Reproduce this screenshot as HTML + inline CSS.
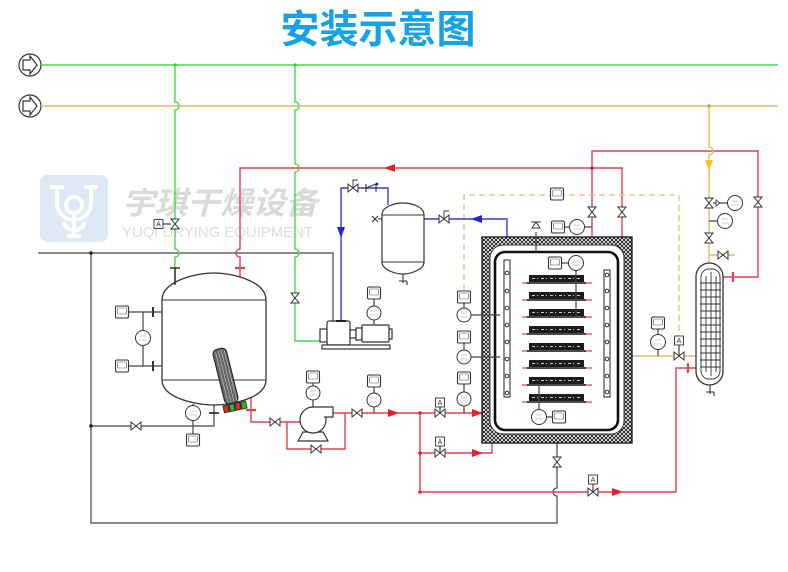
<!DOCTYPE html>
<html><head><meta charset="utf-8"><style>
html,body{margin:0;padding:0;background:#fff;}
svg{display:block;}
.v{fill:#fff;stroke:#333;stroke-width:1;}
.g{fill:none;stroke:#444;stroke-width:1.2;}
.sq{fill:#fff;stroke:#333;stroke-width:1.1;}
.sqi{fill:#fff;stroke:#555;stroke-width:.6;}
.ci{fill:#fff;stroke:#333;stroke-width:1;}
.tk{fill:none;stroke:#999;stroke-width:.6;}
.ab{fill:#fff;stroke:#333;stroke-width:.9;}
.at{font-family:"Liberation Sans",sans-serif;font-size:7px;fill:#333;}
</style></head><body>
<svg width="788" height="572" viewBox="0 0 788 572" xmlns="http://www.w3.org/2000/svg">
<defs>
<pattern id="hx" width="4" height="4" patternUnits="userSpaceOnUse">
<rect width="4" height="4" fill="#fff"/>
<path d="M0,0L4,4M4,0L0,4" stroke="#111" stroke-width="0.9"/>
</pattern>
</defs>
<rect width="788" height="572" fill="#fff"/>

<!-- Title -->
<text x="378" y="43" text-anchor="middle" font-family="'Liberation Sans','Noto Sans CJK SC',sans-serif" font-size="39" font-weight="bold" fill="#17a2e8">安装示意图</text>

<!-- Watermark -->
<rect x="40" y="175" width="68" height="67" rx="7" fill="#dfe9f5"/>
<g fill="none" stroke="#fff" stroke-width="4">
<path d="M50,187h14M84,187h14"/>
<path d="M57,187V203a17,17 0 0 0 34,0V187"/>
<circle cx="74" cy="205" r="8"/>
<path d="M74,213V236M64,222a10,8 0 0 0 20,0M67,236h14"/>
</g>
<text x="122" y="214" font-family="'Liberation Sans','Noto Sans CJK SC',sans-serif" font-size="31" font-weight="bold" font-style="italic" fill="#dadada" textLength="196" lengthAdjust="spacingAndGlyphs">宇琪干燥设备</text>
<text x="122" y="237" font-family="'Liberation Sans',sans-serif" font-size="15" fill="#dcdcdc" textLength="191" lengthAdjust="spacingAndGlyphs">YUQI DRYING EQUIPMENT</text>

<!-- Inlet circles -->
<g fill="none" stroke="#333" stroke-width="1.2">
<circle cx="30" cy="65" r="11"/>
<path d="M23,60H30V56L37,65L30,74V70H23Z"/>
<circle cx="30" cy="106" r="11"/>
<path d="M23,101H30V97L37,106L30,115V111H23Z"/>
</g>

<!-- Main header lines -->
<path d="M41,65H778" stroke="#4cd94c" stroke-width="1.5" fill="none"/>
<path d="M41,106H778" stroke="#e6b76c" stroke-width="1.5" fill="none"/>

<!-- Gray lines -->
<path class="g" d="M38,253H333V321"/>
<path class="g" d="M91,253V523H557V496a4,4 0 0 1 0,-8V430"/>
<path class="g" d="M91,426H214V405"/>
<circle cx="91" cy="253" r="1.8" fill="#222"/>
<circle cx="91" cy="426" r="1.8" fill="#222"/>

<!-- Green verticals -->
<g fill="none" stroke="#4cd94c" stroke-width="1.4">
<path d="M175,65V102a4,4 0 0 1 0,8V249a4,4 0 0 1 0,8V284"/>
<path d="M295,65V102a4,4 0 0 1 0,8V164a4,4 0 0 1 0,8V249a4,4 0 0 1 0,8V341H320"/>
</g>
<circle cx="175" cy="65" r="1.6" fill="#3c3"/>
<circle cx="295" cy="65" r="1.6" fill="#3c3"/>

<!-- Red lines -->
<g fill="none" stroke="#e2404f" stroke-width="1.4">
<path d="M240,284V257a4,4 0 0 1 0,-8V168H622V243"/>
<path d="M592,402V151H758V277H723"/>
<path d="M251,395V422H300"/>
<path d="M287,422V449H345V413"/>
<path d="M332,413H522V283"/>
<path d="M420,413V492H676V368H696"/>
<path d="M420,453H492V437"/>
</g>
<g fill="#e2202f">
<circle cx="592" cy="168" r="1.8"/>
<circle cx="420" cy="413" r="1.8"/>
<circle cx="420" cy="453" r="1.8"/>
<circle cx="420" cy="492" r="1.8"/>
<polygon points="384,168 395,164 395,172"/>
<polygon points="388,409 399,413 388,417"/>
<polygon points="472,409 483,413 472,417"/>
<polygon points="472,449 483,453 472,457"/>
<polygon points="612,488 623,492 612,496"/>
</g>
<!-- red flanges -->
<g stroke="#e2404f" stroke-width="2.2">
<path d="M235,268H245"/>
<path d="M246,410H256"/>
<path d="M733,272V282"/>
<path d="M688,363V373"/>
</g>

<!-- Orange lines -->
<g fill="none" stroke="#e6b76c" stroke-width="1.4">
<path d="M709,106V147a4,4 0 0 1 0,8V263"/>
<path d="M607,356H696"/>
<path d="M709,255H735"/>
</g>
<circle cx="709" cy="106" r="1.8" fill="#e0a040"/>
<polygon points="705,160 713,160 709,171" fill="#f2c21e"/>
<path d="M464,290V195H679V336" fill="none" stroke="#e0bc80" stroke-width="1.3" stroke-dasharray="6,4"/>

<!-- Blue lines -->
<g fill="none" stroke="#3a3acc" stroke-width="1.4">
<path d="M341,321V188H388V205"/>
<path d="M424,219H507V260"/>
</g>
<polygon points="337,227 345,227 341,238" fill="#2222dd"/>
<polygon points="471,219 482,215 482,223" fill="#2222dd"/>

<!-- Main tank -->
<path d="M162,300C162,281 196,273 214,273C232,273 266,281 266,300V380C266,398 232,405 214,405C196,405 162,398 162,380Z" fill="#fff" stroke="#333" stroke-width="1.3"/>
<path d="M162,300H266M162,380H266" stroke="#333" stroke-width="1"/>
<path d="M175,268V285M170,268H180" stroke="#333" stroke-width="1.5"/>
<path d="M209,413H219" stroke="#333" stroke-width="1.8"/>
<!-- tank gauges lines -->
<path class="g" d="M129,312H162M129,366H162M143,312V330M143,346V366" />
<path d="M153,307V317M153,361V371" stroke="#333" stroke-width="2"/>
<path class="g" d="M193,404V405.5M193,420.5V434"/>
<!-- heater -->
<g transform="translate(225.5,376) rotate(-14)">
<rect x="-7" y="-28" width="14" height="56" rx="5" fill="#666" stroke="#222" stroke-width="1"/>
<path d="M-4,-25V27M-1,-26V27M2,-26V27M5,-25V27" stroke="#ddd" stroke-width=".5"/>
</g>
<g transform="translate(235,407) rotate(-12)">
<rect x="-12" y="-4" width="24" height="8" fill="#333"/>
<rect x="-11" y="-3" width="4" height="6" fill="#e22"/>
<rect x="-5" y="-3" width="4" height="6" fill="#2b2"/>
<rect x="1" y="-3" width="4" height="6" fill="#e22"/>
<rect x="7" y="-3" width="4" height="6" fill="#2b2"/>
</g>

<!-- Centrifugal pump -->
<g fill="#fff" stroke="#333" stroke-width="1.2">
<path d="M303,432L298,441H328L323,432Z"/>
<circle cx="313" cy="420" r="13"/>
<path d="M313,407H333V417H324"/>
</g>

<!-- Vacuum pump -->
<g fill="#fff" stroke="#333" stroke-width="1.2">
<rect x="320" y="329" width="7" height="13"/>
<rect x="327" y="321" width="23" height="24" rx="2"/>
<rect x="350" y="330" width="6" height="8"/>
<rect x="356" y="328" width="6" height="12"/>
<rect x="362" y="325" width="27" height="17" rx="1"/>
<rect x="389" y="329" width="3" height="10"/>
<rect x="322" y="345" width="68" height="4"/>
</g>
<path d="M336,321h10" stroke="#222" stroke-width="2"/>

<!-- Separator tank -->
<path d="M382,215C382,206 396,203 403,203C410,203 424,206 424,215V262C424,270 410,274 403,274C396,274 382,270 382,262Z" fill="#fff" stroke="#333" stroke-width="1.2"/>
<path d="M382,215H424M382,262H424" stroke="#333" stroke-width=".9"/>
<path d="M403,274V283M399,281H407M407,281v4" stroke="#333" stroke-width="1.1" fill="none"/>
<path d="M372,216L378,222M372,222L378,216M378,219H382" stroke="#333" stroke-width="1.1"/>

<!-- Drying chamber -->
<rect x="482" y="237" width="150" height="206" fill="url(#hx)" stroke="#111" stroke-width="1.3"/>
<rect x="490" y="245" width="134" height="189" rx="13" fill="#fff" stroke="#333" stroke-width="1"/>
<rect x="495" y="252" width="123" height="178" rx="10" fill="none" stroke="#111" stroke-width="2.6"/>
<!-- bars -->
<rect x="504" y="260" width="6" height="137" fill="#fff" stroke="#222" stroke-width="1"/>
<rect x="604" y="270" width="6" height="127" fill="#fff" stroke="#222" stroke-width="1"/>
<g fill="#fff" stroke="#222" stroke-width=".9">
<circle cx="507" cy="273" r="1.8"/><circle cx="507" cy="291" r="1.8"/><circle cx="507" cy="308" r="1.8"/><circle cx="507" cy="325" r="1.8"/><circle cx="507" cy="342" r="1.8"/><circle cx="507" cy="359" r="1.8"/><circle cx="507" cy="376" r="1.8"/><circle cx="507" cy="393" r="1.8"/>
<circle cx="607" cy="275" r="1.8"/><circle cx="607" cy="291" r="1.8"/><circle cx="607" cy="308" r="1.8"/><circle cx="607" cy="325" r="1.8"/><circle cx="607" cy="342" r="1.8"/><circle cx="607" cy="359" r="1.8"/><circle cx="607" cy="376" r="1.8"/><circle cx="607" cy="392" r="1.8"/>
</g>
<!-- red stubs to plates -->
<g stroke="#e2404f" stroke-width="1.3">
<path d="M522,283H529M522,300H529M522,317H529M522,334H529M522,351H529M522,368H529M522,385H529M522,402H529"/>
<path d="M584,283H592M584,300H592M584,317H592M584,334H592M584,351H592M584,368H592M584,385H592M584,402H592"/>
</g>
<!-- plates -->
<g>
<g fill="#1c1c1c">
<rect x="529" y="275" width="55" height="7"/><rect x="529" y="292" width="55" height="7"/><rect x="529" y="309" width="55" height="7"/><rect x="529" y="326" width="55" height="7"/><rect x="529" y="343" width="55" height="7"/><rect x="529" y="360" width="55" height="7"/><rect x="529" y="377" width="55" height="7"/><rect x="529" y="394" width="55" height="7"/>
</g>
<g stroke="#111" stroke-width="1.4">
<path d="M527,283H586M527,300H586M527,317H586M527,334H586M527,351H586M527,368H586M527,385H586M527,402H586"/>
</g>
<g stroke="#fff" stroke-width=".8" stroke-dasharray="3,2,1,3">
<path d="M532,278.5H581M532,295.5H581M532,312.5H581M532,329.5H581M532,346.5H581M532,363.5H581M532,380.5H581M532,397.5H581"/>
</g>
</g>
<!-- chamber instrumentation lines -->
<path class="g" d="M536,252V232M564.5,227H569.5M584.5,227H592M561.5,263H568.5M576,270.5V316M546.5,417H552.5M539,409.5V385M470,315H500M470,357H500"/>
<path d="M531,222H541M536,222L532,228H540Z" fill="#fff" stroke="#333" stroke-width="1"/>

<!-- Heat exchanger -->
<rect x="696" y="263" width="27" height="122" rx="13.5" fill="#fff" stroke="#333" stroke-width="1.3"/>
<rect x="701" y="269" width="19" height="110" rx="8" fill="none" stroke="#333" stroke-width=".9"/>
<path d="M706,276V372M711,272V376M716,276V372" stroke="#333" stroke-width=".9"/>
<path d="M700,283H721M700,290H721M700,297H721M700,304H721M700,311H721M700,318H721M700,325H721M700,332H721M700,339H721M700,346H721M700,353H721M700,360H721M700,367H721" stroke="#333" stroke-width=".9"/>
<path d="M710,385V394M706,392H714M714,392v4" stroke="#333" stroke-width="1.1" fill="none"/>
<path class="g" d="M713,203H727.5M709,221H717.5"/>
<path d="M716,200L720,203L716,206Z" fill="#fff" stroke="#333" stroke-width=".8"/>

<!-- Valves vertical -->
<path class="v" d="M171,219H179L171,229H179Z"/>
<path class="v" d="M291,293H299L291,303H299Z"/>
<path class="v" d="M588,207H596L588,217H596Z"/>
<path class="v" d="M618,207H626L618,217H626Z"/>
<path class="v" d="M754,197H762L754,207H762Z"/>
<path class="v" d="M705,198H713L705,208H713Z"/>
<path class="v" d="M705,233H713L705,243H713Z"/>
<path class="v" d="M553,457H561L553,467H561Z"/>
<!-- Valves horizontal -->
<path class="v" d="M131,422V430L141,422V430Z"/>
<path class="v" d="M270,418V426L280,418V426Z"/>
<path class="v" d="M311,445V453L321,445V453Z"/>
<path class="v" d="M352,409V417L362,409V417Z"/>
<path class="v" d="M435,409V417L445,409V417Z"/>
<path class="v" d="M435,449V457L445,449V457Z"/>
<path class="v" d="M588,488V496L598,488V496Z"/>
<path class="v" d="M674,352V360L684,352V360Z"/>
<path class="v" d="M718,251V259L728,251V259Z"/>
<path class="v" d="M348,184V192L358,184V192Z"/>
<path class="v" d="M439,215V223L449,215V223Z"/>
<path d="M353,188V180H358M444,219V211H449" fill="none" stroke="#333" stroke-width=".9"/>
<!-- check valve -->
<path d="M366,184V192M366,188L376,184M376,184V192" fill="none" stroke="#333" stroke-width="1.1"/>
<circle cx="377" cy="184" r="1.4" fill="#333"/>

<!-- A boxes -->
<g>
<path class="g" d="M163,224H171M440,407V413M440,446V453M593,484V492M679,345V356"/>
<rect class="ab" x="154" y="219.5" width="9" height="9"/><text class="at" x="158.5" y="226.5" text-anchor="middle">A</text>
<rect class="ab" x="435.5" y="398" width="9" height="9"/><text class="at" x="440" y="405" text-anchor="middle">A</text>
<rect class="ab" x="435.5" y="437" width="9" height="9"/><text class="at" x="440" y="444" text-anchor="middle">A</text>
<rect class="ab" x="588.5" y="475" width="9" height="9"/><text class="at" x="593" y="482" text-anchor="middle">A</text>
<rect class="ab" x="674.5" y="336" width="9" height="9"/><text class="at" x="679" y="343" text-anchor="middle">A</text>
</g>

<!-- Gauge connection lines -->
<path class="g" d="M313,383V386M313,400V407M374,387V393M374,407V413M374,299V306M374,320V325M464,303V308M464,343V350M464,384V392M464,406V413M658,329V335M658,349V356"/>

<!-- Square gauges -->
<g>
<rect class="sq" x="115.5" y="306" width="13" height="12" rx="1.5"/><rect class="sqi" x="117.5" y="308" width="9" height="6" rx="1"/>
<rect class="sq" x="115.5" y="360" width="13" height="12" rx="1.5"/><rect class="sqi" x="117.5" y="362" width="9" height="6" rx="1"/>
<rect class="sq" x="186.5" y="434" width="13" height="12" rx="1.5"/><rect class="sqi" x="188.5" y="436" width="9" height="6" rx="1"/>
<rect class="sq" x="306.5" y="371" width="13" height="12" rx="1.5"/><rect class="sqi" x="308.5" y="373" width="9" height="6" rx="1"/>
<rect class="sq" x="367.5" y="375" width="13" height="12" rx="1.5"/><rect class="sqi" x="369.5" y="377" width="9" height="6" rx="1"/>
<rect class="sq" x="367.5" y="287" width="13" height="12" rx="1.5"/><rect class="sqi" x="369.5" y="289" width="9" height="6" rx="1"/>
<rect class="sq" x="457.5" y="291" width="13" height="12" rx="1.5"/><rect class="sqi" x="459.5" y="293" width="9" height="6" rx="1"/>
<rect class="sq" x="457.5" y="331" width="13" height="12" rx="1.5"/><rect class="sqi" x="459.5" y="333" width="9" height="6" rx="1"/>
<rect class="sq" x="457.5" y="372" width="13" height="12" rx="1.5"/><rect class="sqi" x="459.5" y="374" width="9" height="6" rx="1"/>
<rect class="sq" x="550.5" y="188" width="13" height="12" rx="1.5"/><rect class="sqi" x="552.5" y="190" width="9" height="6" rx="1"/>
<rect class="sq" x="551.5" y="221" width="13" height="12" rx="1.5"/><rect class="sqi" x="553.5" y="223" width="9" height="6" rx="1"/>
<rect class="sq" x="548.5" y="257" width="13" height="12" rx="1.5"/><rect class="sqi" x="550.5" y="259" width="9" height="6" rx="1"/>
<rect class="sq" x="552.5" y="411" width="13" height="12" rx="1.5"/><rect class="sqi" x="554.5" y="413" width="9" height="6" rx="1"/>
<rect class="sq" x="651.5" y="317" width="13" height="12" rx="1.5"/><rect class="sqi" x="653.5" y="319" width="9" height="6" rx="1"/>
</g>
<!-- Circle gauges -->
<g>
<circle class="ci" cx="143" cy="338" r="7.5"/><path class="tk" d="M140,336h6M139,340h8"/>
<circle class="ci" cx="193" cy="413" r="7.5"/><path class="tk" d="M190,411h6M189,415h8"/>
<circle class="ci" cx="313" cy="393" r="7"/><path class="tk" d="M310,391h6M309,395h8"/>
<circle class="ci" cx="374" cy="400" r="7"/><path class="tk" d="M371,398h6M370,402h8"/>
<circle class="ci" cx="374" cy="313" r="7"/><path class="tk" d="M371,311h6M370,315h8"/>
<circle class="ci" cx="464" cy="315" r="7"/><path class="tk" d="M461,313h6M460,317h8"/>
<circle class="ci" cx="464" cy="357" r="7"/><path class="tk" d="M461,355h6M460,359h8"/>
<circle class="ci" cx="464" cy="399" r="7"/><path class="tk" d="M461,397h6M460,401h8"/>
<circle class="ci" cx="577" cy="227" r="7.5"/><path class="tk" d="M574,225h6M573,229h8"/>
<circle class="ci" cx="576" cy="263" r="7.5"/><path class="tk" d="M573,261h6M572,265h8"/>
<circle class="ci" cx="539" cy="417" r="7.5"/><path class="tk" d="M536,415h6M535,419h8"/>
<circle class="ci" cx="658" cy="342" r="7.5"/><path class="tk" d="M655,340h6M654,344h8"/>
<circle class="ci" cx="735" cy="203" r="7.5"/><path class="tk" d="M732,201h6M731,205h8"/>
<circle class="ci" cx="725" cy="221" r="7.5"/><path class="tk" d="M722,219h6M721,223h8"/>
</g>
</svg>
</body></html>
